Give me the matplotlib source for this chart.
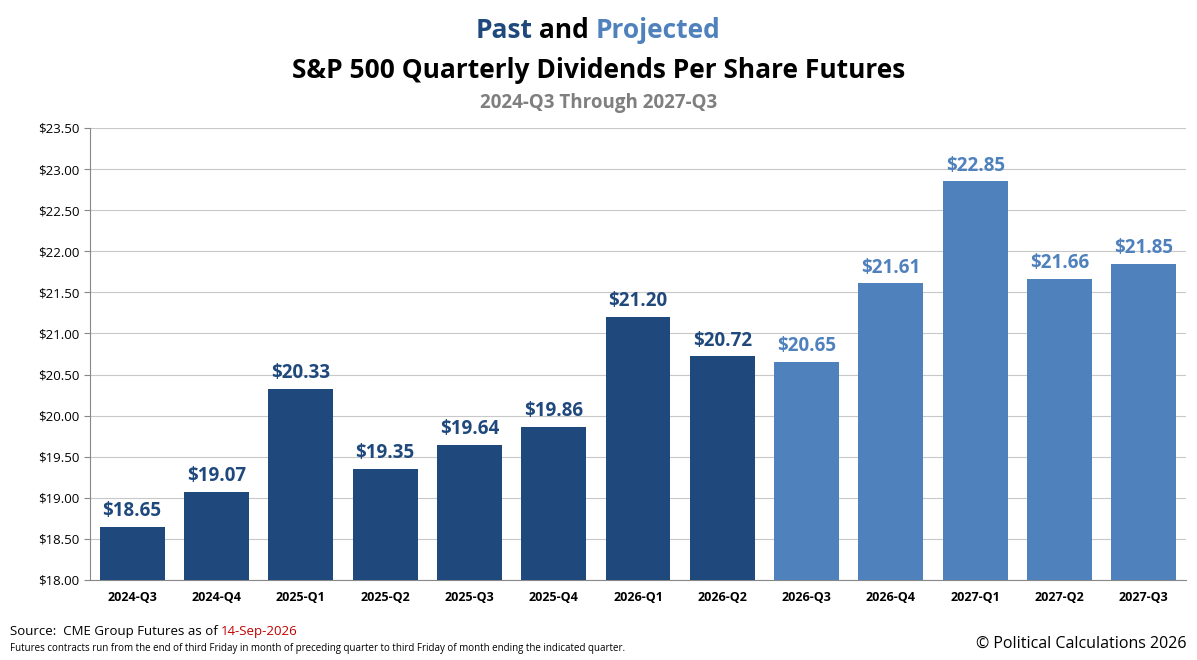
import matplotlib
matplotlib.use("Agg")
import matplotlib.pyplot as plt
from matplotlib.ticker import MultipleLocator, FuncFormatter

quarters = ["2024-Q3","2024-Q4","2025-Q1","2025-Q2","2025-Q3","2025-Q4","2026-Q1","2026-Q2",
            "2026-Q3","2026-Q4","2027-Q1","2027-Q2","2027-Q3"]
values = [18.65,19.07,20.33,19.35,19.64,19.86,21.20,20.72,20.65,21.61,22.85,21.66,21.85]
n_past = 8
DARK = "#1F497D"; LIGHT = "#4F81BD"
plt.rcParams['font.family'] = ['Open Sans', 'DejaVu Sans']

fig = plt.figure(figsize=(11.97, 6.6), dpi=100)
ax = fig.add_axes([90/1197, 1-580/660, (1186-90)/1197, (580-128)/660])
colors = [DARK if i < n_past else LIGHT for i in range(len(values))]
x = range(len(values))
ax.bar(x, values, width=0.77, color=colors, zorder=3)
for i, v in enumerate(values):
    ax.text(i, v + 0.07, f"${v:.2f}", ha="center", va="bottom", fontsize=13.5,
            fontweight="bold", color=colors[i])
ax.set_ylim(18, 23.5)
ax.set_xlim(-0.5, len(values) - 0.5)
ax.yaxis.set_major_locator(MultipleLocator(0.5))
ax.yaxis.set_major_formatter(FuncFormatter(lambda v, p: f"${v:.2f}"))
ax.grid(axis="y", color="#C8C8C8", lw=0.8, zorder=0)
ax.set_xticks(list(x))
ax.set_xticklabels(quarters, fontsize=9, fontweight="bold")
ax.tick_params(axis="y", labelsize=9.5, length=4, color="#888888")
ax.tick_params(axis="x", length=0, pad=8)
for s in ["top", "right"]:
    ax.spines[s].set_visible(False)
ax.spines["left"].set_color("#888888")
ax.spines["bottom"].set_color("#888888")

# Title line 1 with colored words
fig.canvas.draw()
r = fig.canvas.get_renderer()
parts = [("Past", DARK), (" and ", "black"), ("Projected", LIGHT)]
ts = [fig.text(0, 1-30/660, p, fontsize=19, fontweight="bold", color=c, va="center") for p, c in parts]
ws = [t.get_window_extent(r).width for t in ts]
xs = 598 - sum(ws)/2
for t, w in zip(ts, ws):
    t.set_x(xs/1197); xs += w
fig.text(0.5, 1-70/660, "S&P 500 Quarterly Dividends Per Share Futures", ha="center", va="center",
         fontsize=19, fontweight="bold", color="black")
fig.text(0.5, 1-103/660, "2024-Q3 Through 2027-Q3", ha="center", va="center",
         fontsize=13.5, fontweight="bold", color="#7F7F7F")

# footer
src = [("Source:  CME Group Futures as of ", "black"), ("14-Sep-2026", "#C00000")]
xs = 10
for p, c in src:
    t = fig.text(xs/1197, 1-632/660, p, fontsize=9.5, color=c, va="center")
    xs += t.get_window_extent(r).width
fig.text(10/1197, 1-648/660, "Futures contracts run from the end of third Friday in month of preceding quarter to third Friday of month ending the indicated quarter.",
         fontsize=7, va="center")
fig.text(1186/1197, 1-644/660, "© Political Calculations 2026", ha="right", va="center", fontsize=11.5)
fig.savefig("out.png", dpi=100)
